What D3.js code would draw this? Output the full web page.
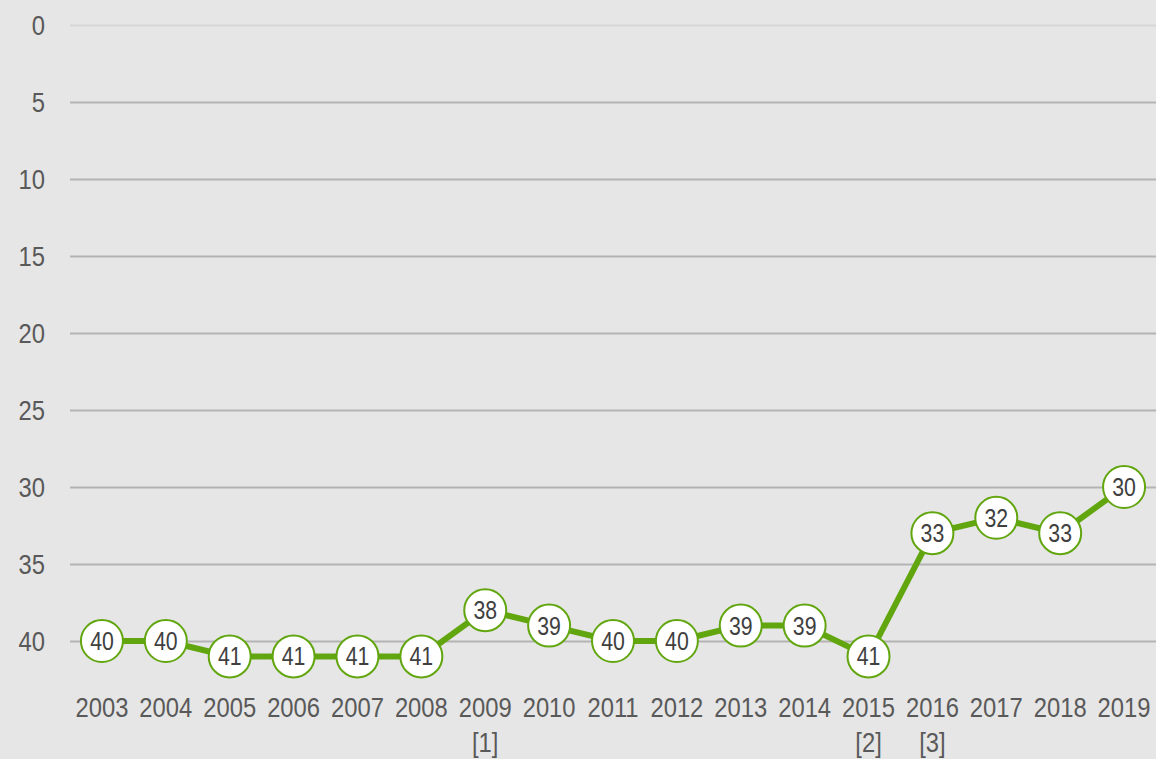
<!DOCTYPE html>
<html>
<head>
<meta charset="utf-8">
<script src="https://cdn.jsdelivr.net/npm/d3@7"></script>
<style>
  html, body { margin: 0; padding: 0; background: #e6e6e6; }
  svg { display: block; }
  text { font-family: "Liberation Sans Narrow", "Liberation Sans", Arial, sans-serif; fill: #595959; }
</style>
</head>
<body>
<svg id="chart"></svg>
<script>
// data
var years = ["2003","2004","2005","2006","2007","2008","2009","2010","2011","2012","2013","2014","2015","2016","2017","2018","2019"];
var notes = ["","","","","","","[1]","","","","","","[2]","[3]","","",""];
var ranks = [40,40,41,41,41,41,38,39,40,40,39,39,41,33,32,33,30];
var yTicks = [0,5,10,15,20,25,30,35,40];

var width = 1156, height = 759;
var plotLeft = 70, plotTop = 25, plotBottom = 641;
var green = "#62a60f";
var squeeze = 0.85; // narrow look of the original font

var svg = d3.select("#chart")
    .attr("width", width)
    .attr("height", height);

var x = d3.scaleBand()
    .domain(years)
    .range([plotLeft, width]);

// inverted: 0 on top
var y = d3.scaleLinear()
    .domain([0, 40])
    .range([plotTop, plotBottom]);

function cx(i) { return x(years[i]) + x.bandwidth() / 2; }
function place(px, py) { return "translate(" + px + "," + py + ") scale(" + squeeze + ",1)"; }

// gridlines
svg.append("g").selectAll("line")
    .data(yTicks)
    .enter().append("line")
    .attr("x1", plotLeft)
    .attr("x2", width)
    .attr("y1", function(d) { return Math.round(y(d)) + 0.5; })
    .attr("y2", function(d) { return Math.round(y(d)) + 0.5; })
    .style("stroke", function(d) { return d === 0 ? "#d6d6d6" : "#b3b3b3"; })
    .style("stroke-width", 2);

// y labels
svg.append("g").selectAll("text")
    .data(yTicks)
    .enter().append("text")
    .attr("transform", function(d) { return place(45, y(d)); })
    .attr("dy", "0.36em")
    .attr("text-anchor", "end")
    .style("font-size", "28px")
    .text(function(d) { return d; });

// x labels
svg.append("g").selectAll("text")
    .data(years)
    .enter().append("text")
    .attr("transform", function(d, i) { return place(cx(i), 717); })
    .attr("text-anchor", "middle")
    .style("font-size", "28px")
    .text(function(d) { return d; });

svg.append("g").selectAll("text")
    .data(notes)
    .enter().append("text")
    .attr("transform", function(d, i) { return place(cx(i), 752); })
    .attr("text-anchor", "middle")
    .style("font-size", "28px")
    .text(function(d) { return d; });

// line
var line = d3.line()
    .x(function(d, i) { return cx(i); })
    .y(function(d) { return y(d); });

svg.append("path")
    .datum(ranks)
    .attr("d", line)
    .style("fill", "none")
    .style("stroke", green)
    .style("stroke-width", 6);

// markers
var pts = svg.append("g").selectAll("g")
    .data(ranks)
    .enter().append("g")
    .attr("transform", function(d, i) { return "translate(" + cx(i) + "," + y(d) + ")"; });

pts.append("circle")
    .attr("r", 21)
    .style("fill", "#fff")
    .style("stroke", green)
    .style("stroke-width", 2);

pts.append("text")
    .attr("transform", "scale(" + squeeze + ",1)")
    .attr("text-anchor", "middle")
    .attr("dy", "0.36em")
    .style("font-size", "25px")
    .style("fill", "#404040")
    .text(function(d) { return d; });
</script>
</body>
</html>
